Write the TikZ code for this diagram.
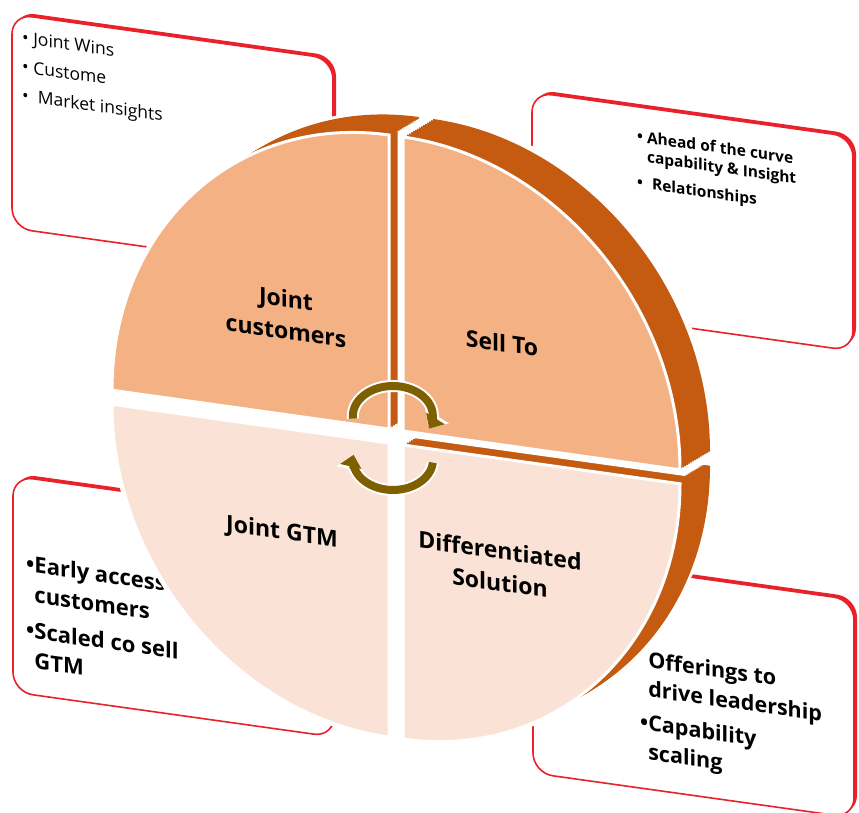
\documentclass[tikz,border=0pt]{standalone}
\usepackage{fontspec}
\setmainfont{Open Sans}
\usetikzlibrary{arrows.meta}

\definecolor{boxred}{HTML}{E8212B}
\definecolor{peach}{HTML}{F4B183}
\definecolor{blush}{HTML}{FAE3D6}
\definecolor{rim}{HTML}{C55A11}
\definecolor{olive}{HTML}{7F6000}

\tikzset{
  panel/.style={fill=white, draw=boxred, line width=1.6pt, rounded corners=20pt},
  panelrim/.style={fill=boxred, rounded corners=20pt},
  note/.style={anchor=north west, align=left, inner sep=0pt, transform shape},
  seglabel/.style={align=center, inner sep=0pt, transform shape, font=\bfseries\fontsize{23}{32}\selectfont},
  spin halo/.style={white, line width=12pt, -{Triangle[length=15pt, width=28pt, line width=0pt]}},
  spin body/.style={olive, line width=8pt, -{Triangle[length=12pt, width=22pt, line width=0pt]}},
}

\begin{document}
\begin{tikzpicture}[x=1pt, y=1pt]
\useasboundingbox (0,0) rectangle (859,-812);

% the four note cards behind the disc
\begin{scope}[shift={(12,-14)}, yslant=-0.14]
  \fill[panelrim, shift={(3,3)}] (0,0) rectangle (321,-214);
  \draw[panel] (0,0) rectangle (321,-214);
  \node[note, font=\fontsize{17.5}{29}\selectfont] (wins) at (10,-15)
    {• Joint Wins\\• Custome\\•\hspace{9pt}Market insights};
\end{scope}

\begin{scope}[shift={(532,-92)}, yslant=-0.14]
  \fill[panelrim, shift={(3,3)}] (0,0) rectangle (321,-214);
  \draw[panel] (0,0) rectangle (321,-214);
  \node[note, font=\bfseries\fontsize{15.5}{19.5}\selectfont] (ahead) at (105,-23)
    {• Ahead of the curve\\\phantom{• }capability \& Insight\\[7pt]•\hspace{9pt}Relationships};
\end{scope}

\begin{scope}[shift={(13,-476)}, yslant=-0.14]
  \fill[panelrim, shift={(3,3)}] (0,0) rectangle (321,-216);
  \draw[panel] (0,0) rectangle (321,-216);
  \node[note, font=\bfseries\fontsize{22}{30}\selectfont] (early) at (13,-77)
    {•Early access\\\phantom{•}customers\\[6pt]•Scaled co sell\\\phantom{•}GTM};
\end{scope}

\begin{scope}[shift={(533,-555)}, yslant=-0.14]
  \fill[panelrim, shift={(3,3)}] (0,0) rectangle (321,-218);
  \draw[panel] (0,0) rectangle (321,-218);
  \node[note, font=\bfseries\fontsize{21.5}{29}\selectfont] (offer) at (107,-80)
    {\phantom{•}Offerings to\\\phantom{•}drive leadership\\[5pt]•Capability\\\phantom{•}scaling};
\end{scope}

% the disc, quadrant by quadrant (back ones first)
\begin{scope}[shift={(396,-437)}, yslant=-0.14]
  \foreach \cx/\cy/\a/\face/\side/\glow in {-7/-7/180/blush/white/6pt, -7/7/90/peach/rim/6pt,
                                            7/-7/270/blush/rim/6pt, 7/7/0/peach/rim/11pt}{
    \foreach \k in {0,...,15}
      \filldraw[white, line width=\glow, shift={(2*\k,1.48*\k)}] (\cx,\cy) -- ++({277*cos(\a)},{294*sin(\a)})
        arc[start angle=\a, delta angle=90, x radius=277, y radius=294] -- cycle;
    \foreach \k in {1,...,15}
      \fill[\side, shift={(2*\k,1.48*\k)}] (\cx,\cy) -- ++({277*cos(\a)},{294*sin(\a)})
        arc[start angle=\a, delta angle=90, x radius=277, y radius=294] -- cycle;
    \filldraw[fill=\face, draw=white, line width=3pt] (\cx,\cy) -- ++({277*cos(\a)},{294*sin(\a)})
      arc[start angle=\a, delta angle=90, x radius=277, y radius=294] -- cycle;
  }
  \node[seglabel] (jcust) at (-110,107) {Joint\\customers};
  \node[seglabel] (sellto) at (106,109) {Sell To};
  \node[seglabel] (jgtm) at (-114,-112) {Joint GTM};
  \node[seglabel] (diff) at (104,-115) {Differentiated\\Solution};
\end{scope}

% the two turning arrows in the middle
\coordinate (spin-top) at (353,-418.6);
\coordinate (spin-bot) at (432.8,-462.6);
\draw[spin halo] (spin-top) arc[start angle=185, end angle=-25, x radius=40, y radius=30];
\draw[spin body] (spin-top) arc[start angle=185, end angle=-25, x radius=40, y radius=30];
\draw[spin halo] (spin-bot) arc[start angle=-5, end angle=-190, x radius=40, y radius=30];
\draw[spin body] (spin-bot) arc[start angle=-5, end angle=-190, x radius=40, y radius=30];
\end{tikzpicture}
\end{document}
